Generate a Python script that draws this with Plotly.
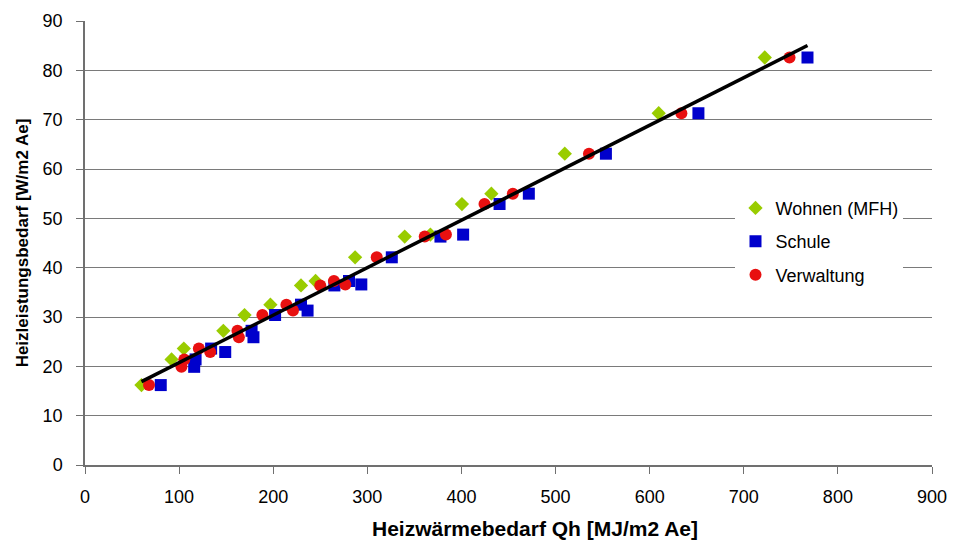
import numpy as np
import plotly.graph_objects as go

# Wohnen (MFH)
wohnen_x = [60, 92, 105, 147, 169.5, 197, 229.5, 245, 287, 339.7, 367, 400.5, 431.8, 509.8, 609.6, 722.3]
wohnen_y = [16.2, 21.4, 23.6, 27.2, 30.4, 32.5, 36.4, 37.3, 42.1, 46.3, 46.7, 52.9, 55.0, 63.1, 71.3, 82.6]
# Schule
schule_x = [80.5, 116, 117.5, 134, 149, 177, 179, 202, 229.5, 236.5, 265, 280.5, 293.6, 326, 377.7, 401.8, 440.5, 471.6, 553.5, 651.8, 767.7]
schule_y = [16.2, 19.9, 21.4, 23.6, 22.9, 27.2, 25.9, 30.4, 32.5, 31.3, 36.4, 37.3, 36.6, 42.1, 46.3, 46.7, 52.9, 55.0, 63.1, 71.3, 82.6]
# Verwaltung
verw_x = [68, 102.5, 105.5, 121, 133, 162, 163.5, 188.5, 214, 221, 250, 264.5, 276.6, 310, 361, 383.5, 424.5, 454.6, 535.5, 633.7, 748.6]
verw_y = [16.2, 19.9, 21.4, 23.6, 22.9, 27.2, 25.9, 30.4, 32.5, 31.3, 36.4, 37.3, 36.6, 42.1, 46.3, 46.7, 52.9, 55.0, 63.1, 71.3, 82.6]

x_ticks = list(range(0, 1000, 100))
y_ticks = list(range(0, 100, 10))
x_title = "Heizwärmebedarf Qh [MJ/m2 Ae]"
y_title = "Heizleistungsbedarf [W/m2 Ae]"

all_x = np.array(wohnen_x + schule_x + verw_x)
all_y = np.array(wohnen_y + schule_y + verw_y)
slope, intercept = np.polyfit(all_x, all_y, 1)
tx = np.array([all_x.min(), all_x.max()])
ty = slope * tx + intercept

fig = go.Figure()
fig.add_trace(go.Scatter(x=wohnen_x, y=wohnen_y, mode="markers", name="Wohnen (MFH)",
                         legendgroup="a",
                         marker=dict(symbol="diamond", size=11, color="#99cc00")))
fig.add_trace(go.Scatter(x=schule_x, y=schule_y, mode="markers", name="Schule",
                         legendgroup="b",
                         marker=dict(symbol="square", size=12, color="#0000cc")))
fig.add_trace(go.Scatter(x=verw_x, y=verw_y, mode="markers", name="Verwaltung",
                         legendgroup="c",
                         marker=dict(symbol="circle", size=12, color="#e81010")))
fig.add_trace(go.Scatter(x=tx, y=ty, mode="lines", showlegend=False,
                         line=dict(color="black", width=3.5)))

font_family = "Liberation Sans, Arial, sans-serif"
fig.update_layout(
    width=955, height=542,
    margin=dict(l=85, r=23, t=21, b=77),
    paper_bgcolor="white", plot_bgcolor="white",
    font=dict(family=font_family, size=18, color="black"),
    legend=dict(x=0.768, y=0.62, xanchor="left", yanchor="top",
                bgcolor="white", borderwidth=0,
                font=dict(size=18, color="black"),
                traceorder="grouped", tracegroupgap=7,
                itemwidth=30),
    xaxis=dict(range=[0, 900], tickvals=x_ticks, showgrid=False,
               showline=True, linecolor="#707070", linewidth=1.5,
               ticks="outside", ticklen=7, tickcolor="#707070",
               ticklabelstandoff=8,
               zeroline=False, automargin=False,
               tickfont=dict(size=18)),
    yaxis=dict(range=[0, 90], tickvals=y_ticks, showgrid=True,
               gridcolor="#7a7a7a", gridwidth=1,
               showline=True, linecolor="#707070", linewidth=1.5,
               ticks="outside", ticklen=7, tickcolor="#707070",
               ticklabelstandoff=10,
               zeroline=False, automargin=False,
               tickfont=dict(size=18),
               title=dict(text="<b>" + y_title + "</b>", standoff=10,
                          font=dict(size=17))),
    annotations=[dict(text="<b>" + x_title + "</b>", xref="paper", yref="paper",
                      x=0.531, y=-0.142, xanchor="center", yanchor="middle",
                      showarrow=False, font=dict(size=21, color="black"))],
)

fig.write_html("out.html")
